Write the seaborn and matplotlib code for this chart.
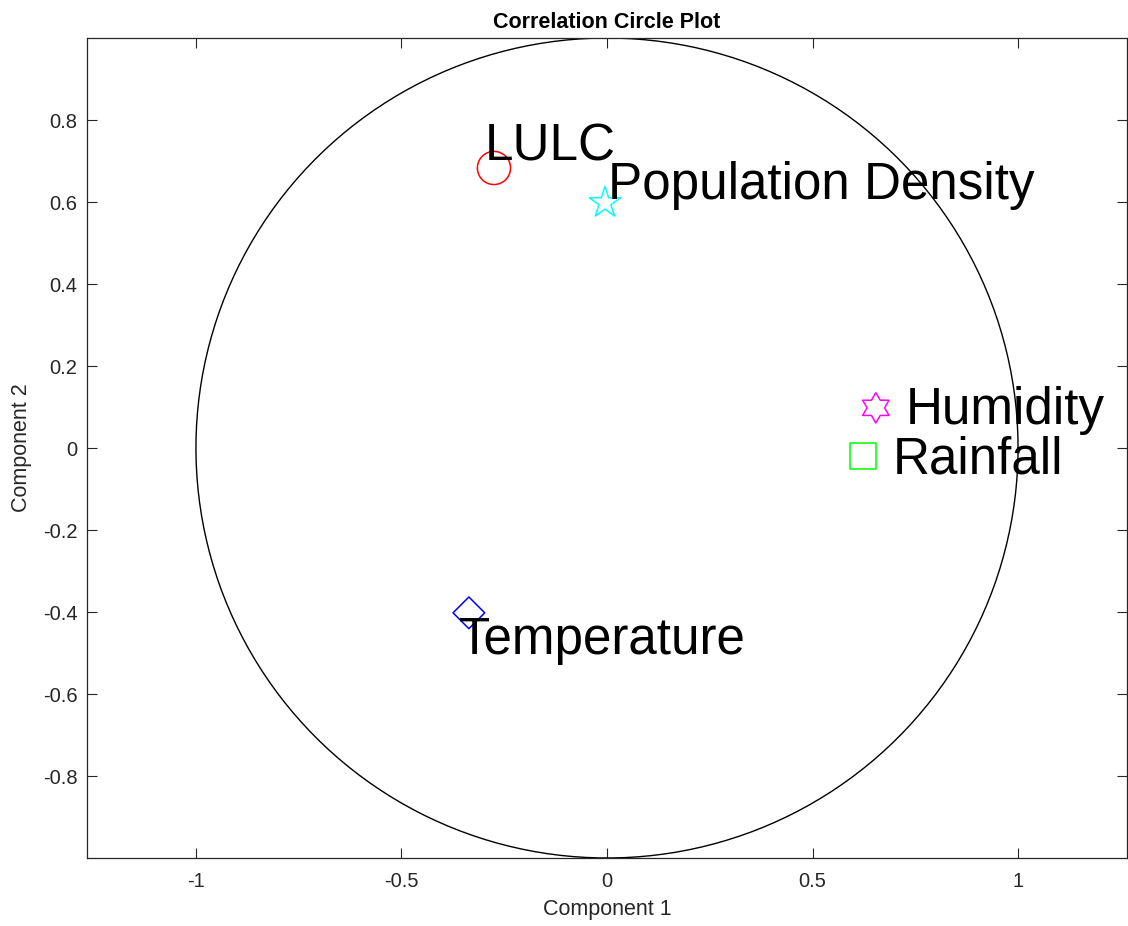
import numpy as np
import pandas as pd
import matplotlib
matplotlib.use("Agg")
import matplotlib.pyplot as plt
import seaborn as sns

# ---- data ----
variables = ["LULC", "Population Density", "Humidity", "Rainfall", "Temperature"]
comp1 = [-0.275, -0.005, 0.654, 0.623, -0.336]
comp2 = [0.683, 0.598, 0.098, -0.020, -0.402]
label_x = [-0.297, 0.002, 0.727, 0.696, -0.360]
label_y = [0.702, 0.608, 0.058, -0.061, -0.502]
colors = ["#FF0000", "#00FFFF", "#FF00FF", "#00FF00", "#0000FF"]
xticks = [-1, -0.5, 0, 0.5, 1]
yticks = [-0.8, -0.6, -0.4, -0.2, 0, 0.2, 0.4, 0.6, 0.8]

# hexagram marker (six-pointed star)
hex_verts = []
for k in range(12):
    ang = np.deg2rad(90 + 30 * k)
    r = 1.0 if k % 2 == 0 else 1 / np.sqrt(3)
    hex_verts.append((r * np.cos(ang), r * np.sin(ang)))
hex_verts.append(hex_verts[0])

markers = ["o", "*", hex_verts, "s", "D"]
sizes = [570, 560, 480, 350, 260]

df = pd.DataFrame({"variable": variables, "c1": comp1, "c2": comp2})

sns.set_theme(style="white")
plt.rcParams["font.family"] = ["Liberation Sans", "DejaVu Sans"]
plt.rcParams["axes.unicode_minus"] = False

fig = plt.figure(figsize=(11.28, 9.26), dpi=100)
ax = fig.add_axes([87 / 1128, 68 / 926, 1040 / 1128, 820 / 926])

# unit circle
theta = np.linspace(0, 2 * np.pi, 400)
sns.lineplot(x=np.cos(theta), y=np.sin(theta), sort=False, color="black",
             linewidth=1.0, ax=ax, estimator=None)

for i, v in enumerate(variables):
    sub = df[df["variable"] == v]
    sns.scatterplot(data=sub, x="c1", y="c2", marker=markers[i], s=sizes[i],
                    color=colors[i], facecolor="none", edgecolor=colors[i],
                    linewidth=1.1, ax=ax, legend=False, zorder=3)
    ax.text(label_x[i], label_y[i], v, fontsize=36.8, color="black",
            ha="left", va="baseline", zorder=4)

ax.set_xlim(-1.265, 1.265)
ax.set_ylim(-1, 1)
ax.set_xticks(xticks)
ax.set_xticklabels(["-1", "-0.5", "0", "0.5", "1"])
ax.set_yticks(yticks)
ax.set_yticklabels([f"{t:g}" for t in yticks])

edge = "#262626"
for s in ax.spines.values():
    s.set_visible(True)
    s.set_color(edge)
    s.set_linewidth(0.9)
ax.tick_params(direction="in", length=7, width=0.8, color=edge,
               labelcolor=edge, labelsize=14.5, top=True, right=True,
               bottom=True, left=True)
ax.tick_params(axis="x", pad=10)
ax.tick_params(axis="y", pad=7)

ax.set_xlabel("Component 1", fontsize=15.5, color=edge, labelpad=6)
ax.set_ylabel("Component 2", fontsize=15.5, color=edge, labelpad=8)
ax.set_title("Correlation Circle Plot", fontsize=15.5, fontweight="bold",
             color="black", pad=7)

fig.savefig("out.png", dpi=100)
